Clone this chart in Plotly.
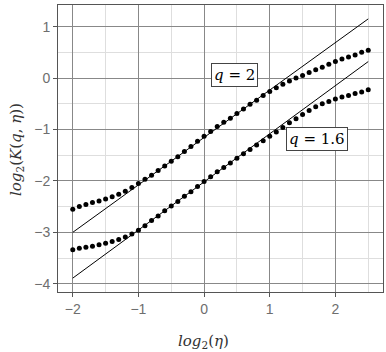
import plotly.graph_objects as go

eta_log = [round(-2.0 + 0.1 * i, 1) for i in range(46)]

k_q2 = [-2.55, -2.50, -2.46, -2.42, -2.39, -2.35, -2.31, -2.26, -2.20, -2.13,
        -2.05, -1.97, -1.89, -1.80, -1.71, -1.62, -1.53, -1.43, -1.33, -1.23,
        -1.13, -1.04, -0.94, -0.86, -0.78, -0.69, -0.60, -0.51, -0.43, -0.34,
        -0.26, -0.19, -0.12, -0.06, 0.00, 0.05, 0.11, 0.16, 0.21, 0.27,
        0.32, 0.37, 0.41, 0.45, 0.50, 0.54]

k_q16 = [-3.34, -3.31, -3.29, -3.27, -3.24, -3.21, -3.18, -3.14, -3.09, -3.03,
         -2.96, -2.87, -2.77, -2.68, -2.58, -2.49, -2.40, -2.30, -2.21, -2.11,
         -2.01, -1.92, -1.82, -1.74, -1.65, -1.56, -1.47, -1.39, -1.30, -1.22,
         -1.13, -1.05, -0.96, -0.87, -0.79, -0.71, -0.63, -0.56, -0.50, -0.455,
         -0.41, -0.37, -0.34, -0.30, -0.27, -0.23]

line_x = [-2.0, 2.5]
line_q2 = [-3.00, 1.15]
line_q16 = [-3.89, 0.32]

x_ticks = [-2, -1, 0, 1, 2]
y_ticks = [-4, -3, -2, -1, 0, 1]

fig = go.Figure()
for ly in (line_q2, line_q16):
    fig.add_trace(go.Scatter(x=line_x, y=ly, mode="lines",
                             line=dict(color="black", width=1), showlegend=False))
for ky in (k_q2, k_q16):
    fig.add_trace(go.Scatter(x=eta_log, y=ky, mode="markers",
                             marker=dict(color="black", size=5), showlegend=False))

serif = "DejaVu Serif, Liberation Serif, serif"
axis_common = dict(
    showgrid=True, gridcolor="#888888", gridwidth=1,
    zeroline=False, showline=True, linecolor="#555555", linewidth=1, mirror=True,
    ticks="outside", ticklen=4, tickcolor="#555555",
    tickfont=dict(family="Liberation Sans", size=14, color="#6e6e6e"),
    minor=dict(showgrid=True, gridcolor="#dedede", gridwidth=1, ticks=""),
)
fig.update_xaxes(range=[-2.225, 2.725], tickvals=x_ticks, **axis_common)
fig.update_yaxes(range=[-4.16, 1.42], tickvals=y_ticks, **axis_common)
fig.update_xaxes(minor_dtick=0.5, minor_tick0=0)
fig.update_yaxes(minor_dtick=0.5, minor_tick0=0)

fig.add_annotation(x=0.465, y=0.06, xref="x", yref="y",
                   xanchor="center", yanchor="middle",
                   text="<i>q</i> = 2", showarrow=False,
                   font=dict(family=serif, size=15, color="black"),
                   bgcolor="white", bordercolor="#444444", borderwidth=1, borderpad=2)
fig.add_annotation(x=1.725, y=-1.18, xref="x", yref="y",
                   xanchor="center", yanchor="middle",
                   text="<i>q</i> = 1.6", showarrow=False,
                   font=dict(family=serif, size=15, color="black"),
                   bgcolor="white", bordercolor="#444444", borderwidth=1, borderpad=2)

fig.add_annotation(x=-0.126, y=0.495, xref="paper", yref="paper",
                   xanchor="center", yanchor="middle",
                   text="<i>log</i><sub>2</sub>(<i>K</i>(<i>q</i>, <i>η</i>))",
                   textangle=-90, showarrow=False,
                   font=dict(family=serif, size=15, color="#333333"))
fig.add_annotation(x=0.449, y=-0.171, xref="paper", yref="paper",
                   xanchor="center", yanchor="middle",
                   text="<i>log</i><sub>2</sub>(<i>η</i>)", showarrow=False,
                   font=dict(family=serif, size=15, color="#333333"))

fig.update_layout(
    width=386, height=352,
    margin=dict(l=58, r=3, t=5, b=60),
    paper_bgcolor="white", plot_bgcolor="white",
    showlegend=False,
)
fig.write_html("out.html")
